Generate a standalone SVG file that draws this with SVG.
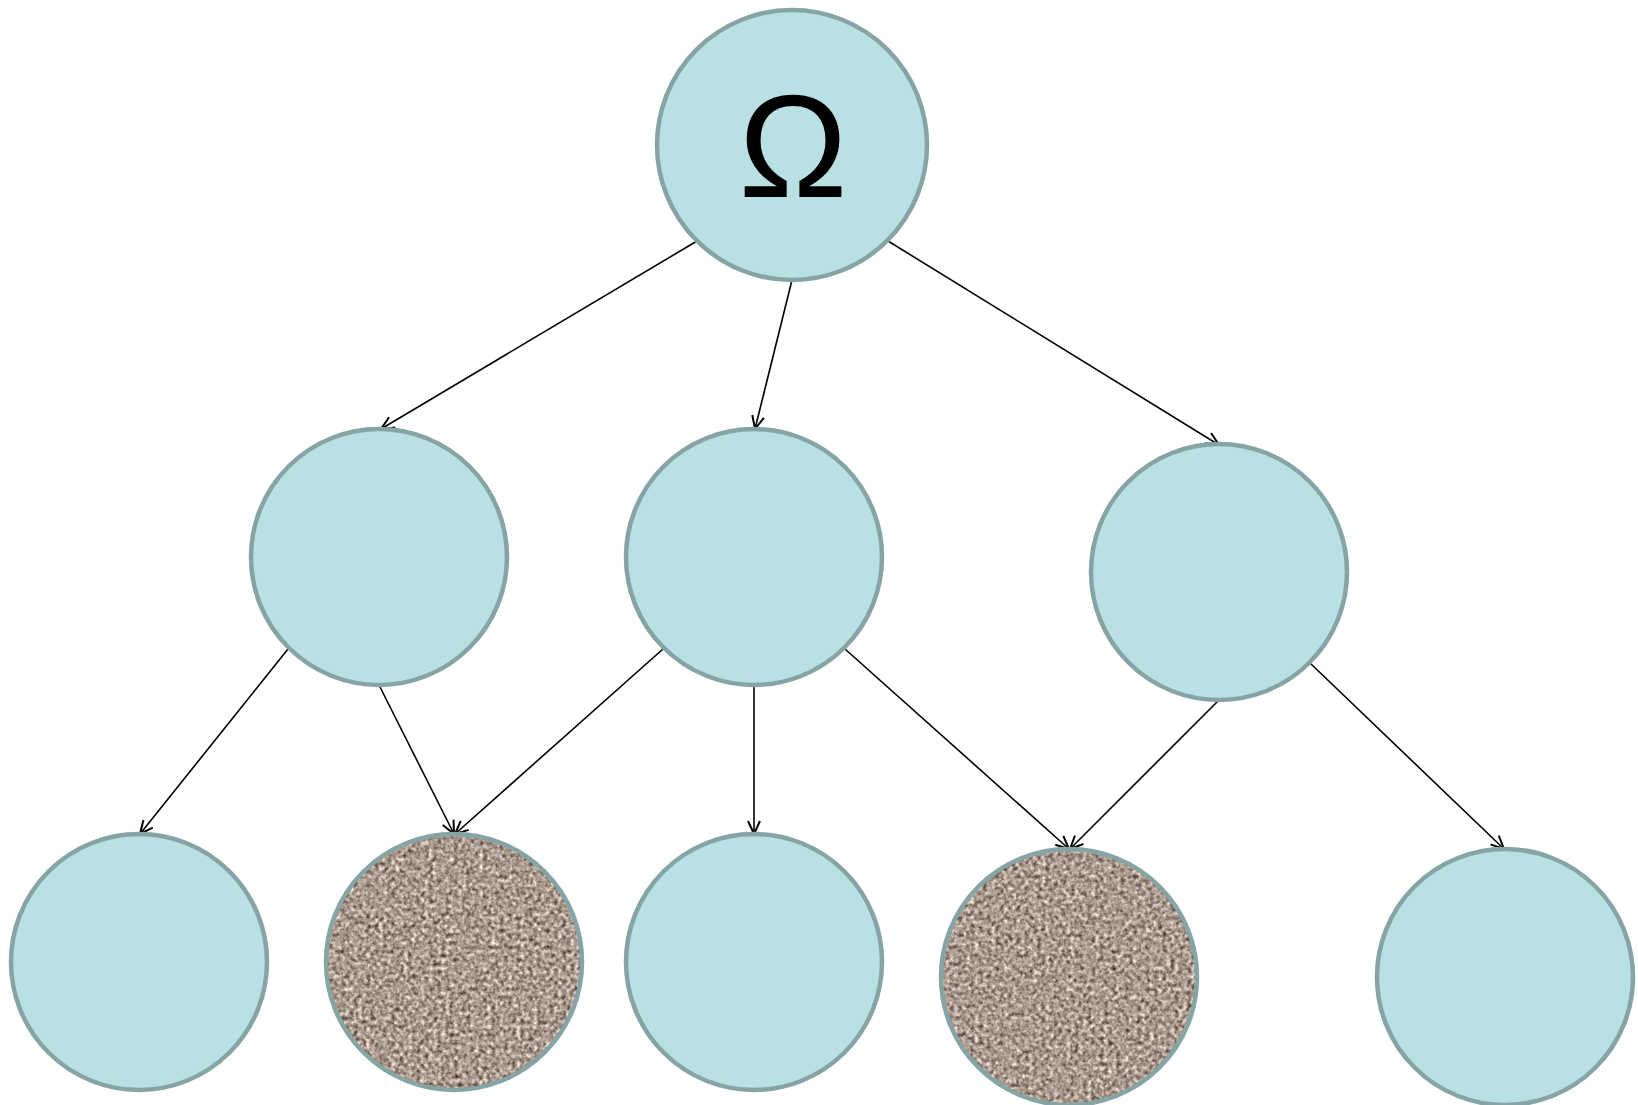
<svg xmlns="http://www.w3.org/2000/svg" width="1638" height="1105" viewBox="0 0 1638 1105">
<style>
.node{fill:#b9e0e3;stroke:#86a4a6;stroke-width:4.5}
.tex{stroke:#86a4a6;stroke-width:4.5;fill:none}
.edge{stroke:#000;stroke-width:1.6;fill:none;marker-end:url(#arr)}
.lbl{font-family:"Liberation Sans",Arial,sans-serif;font-size:146px;fill:#000;text-anchor:middle}
</style>
<defs>
<marker id="arr" markerUnits="userSpaceOnUse" markerWidth="16" markerHeight="14" refX="14" refY="7" orient="auto">
<path d="M1,1 L14,7 L1,13" fill="none" stroke="#000" stroke-width="2"/>
</marker>
<filter id="grain" x="0" y="0" width="100%" height="100%" color-interpolation-filters="sRGB">
<feTurbulence type="fractalNoise" baseFrequency="0.24" numOctaves="2" seed="7" result="n"/>
<feColorMatrix in="n" type="matrix" values="0.7 0.7 0 0 -0.04  0.7 0.7 0 0 -0.1  0.7 0.7 0 0 -0.15  0 0 0 0 1" result="c"/>
<feComposite in="c" in2="SourceGraphic" operator="in"/>
</filter>
</defs>
<rect width="1638" height="1105" fill="#fff"/>
<g id="connectors">
<line class="edge" x1="697" y1="241" x2="381" y2="429"/>
<line class="edge" x1="792" y1="280" x2="755" y2="429"/>
<line class="edge" x1="888" y1="241" x2="1219" y2="445"/>
<line class="edge" x1="288" y1="649" x2="140" y2="834"/>
<line class="edge" x1="379" y1="685" x2="454" y2="834"/>
<line class="edge" x1="663" y1="649" x2="455" y2="834"/>
<line class="edge" x1="754" y1="685" x2="754" y2="834"/>
<line class="edge" x1="845" y1="649" x2="1069" y2="849"/>
<line class="edge" x1="1219" y1="700" x2="1070" y2="849"/>
<line class="edge" x1="1310" y1="663" x2="1504" y2="849"/>
</g>
<g id="root"><circle class="node" cx="792" cy="145" r="135"/><text class="lbl" x="793" y="197">Ω</text></g>
<g id="mid-left"><circle class="node" cx="379" cy="557" r="128"/></g>
<g id="mid-center"><circle class="node" cx="754" cy="557" r="128"/></g>
<g id="mid-right"><circle class="node" cx="1219" cy="572" r="128"/></g>
<g id="leaf-1"><circle class="node" cx="139" cy="962" r="128"/></g>
<g id="leaf-2"><circle cx="454" cy="962" r="128" fill="#a89a8c"/><circle cx="454" cy="962" r="128" fill="#a89a8c" filter="url(#grain)"/><circle class="tex" cx="454" cy="962" r="128"/></g>
<g id="leaf-3"><circle class="node" cx="754" cy="962" r="128"/></g>
<g id="leaf-4"><circle cx="1069" cy="977" r="128" fill="#a89a8c"/><circle cx="1069" cy="977" r="128" fill="#a89a8c" filter="url(#grain)"/><circle class="tex" cx="1069" cy="977" r="128"/></g>
<g id="leaf-5"><circle class="node" cx="1505" cy="977" r="128"/></g>
</svg>
